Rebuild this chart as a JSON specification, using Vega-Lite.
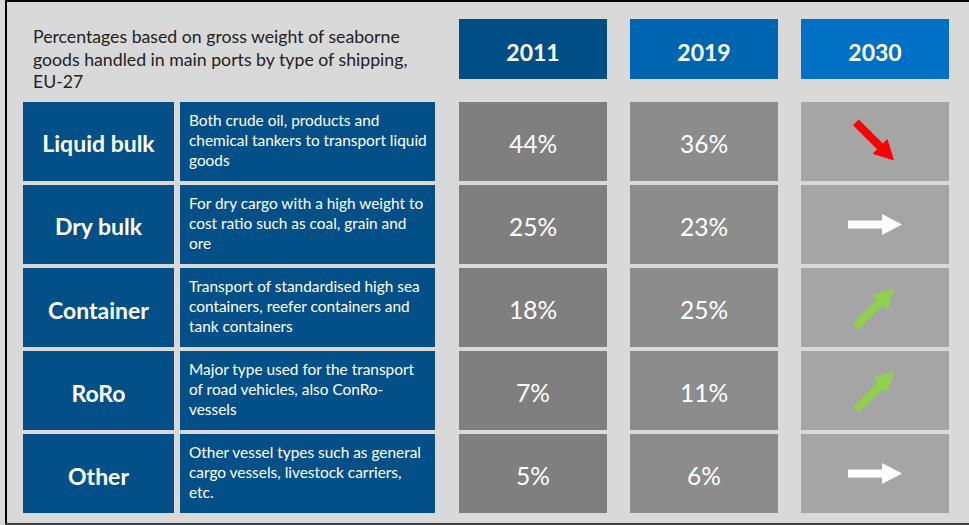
{
  "$schema": "https://vega.github.io/schema/vega-lite/v6.json",
  "background": "#D9D9D9",
  "padding": {"left": 5, "top": 0, "right": 0, "bottom": 0},
  "config": {"view": {"stroke": null}, "font": "Lato", "text": {"font": "Lato"}},
  "resolve": {"scale": {"fill": "independent", "color": "independent", "shape": "independent"}},
  "datasets": {
    "blank": [{}],
    "types": [
      {"type": "Liquid bulk", "desc": "Both crude oil, products and\nchemical tankers to transport liquid\ngoods"},
      {"type": "Dry bulk", "desc": "For dry cargo with a high weight to\ncost ratio such as coal, grain and\nore"},
      {"type": "Container", "desc": "Transport of standardised high sea\ncontainers, reefer containers and\ntank containers"},
      {"type": "RoRo", "desc": "Major type used for the transport\nof road vehicles, also ConRo-\nvessels"},
      {"type": "Other", "desc": "Other vessel types such as general\ncargo vessels, livestock carriers,\netc."}
    ],
    "years": [{"year": "2011"}, {"year": "2019"}, {"year": "2030"}],
    "shares": [
      {"type": "Liquid bulk", "year": "2011", "share": 0.44},
      {"type": "Liquid bulk", "year": "2019", "share": 0.36},
      {"type": "Liquid bulk", "year": "2030", "trend": "down"},
      {"type": "Dry bulk", "year": "2011", "share": 0.25},
      {"type": "Dry bulk", "year": "2019", "share": 0.23},
      {"type": "Dry bulk", "year": "2030", "trend": "flat"},
      {"type": "Container", "year": "2011", "share": 0.18},
      {"type": "Container", "year": "2019", "share": 0.25},
      {"type": "Container", "year": "2030", "trend": "up"},
      {"type": "RoRo", "year": "2011", "share": 0.07},
      {"type": "RoRo", "year": "2019", "share": 0.11},
      {"type": "RoRo", "year": "2030", "trend": "up"},
      {"type": "Other", "year": "2011", "share": 0.05},
      {"type": "Other", "year": "2019", "share": 0.06},
      {"type": "Other", "year": "2030", "trend": "flat"}
    ]
  },
  "spacing": 0,
  "vconcat": [
    {"width": 964, "height": 2, "data": {"name": "blank"}, "mark": {"type": "rect", "color": "black"}, "encoding": {}},
    {
      "spacing": 16,
      "resolve": {"scale": {"fill": "independent", "color": "independent", "shape": "independent"}},
      "hconcat": [
        {"width": 2, "height": 521, "data": {"name": "blank"}, "mark": {"type": "rect", "color": "black"}, "encoding": {}},
        {
          "spacing": 0,
          "resolve": {"scale": {"fill": "independent", "color": "independent", "shape": "independent"}},
          "vconcat": [
            {"width": 1, "height": 17, "data": {"name": "blank"}, "mark": {"type": "rect", "color": "#D9D9D9"}, "encoding": {}},
            {
              "spacing": 24,
              "resolve": {"scale": {"fill": "independent", "color": "independent", "shape": "independent"}},
              "hconcat": [
                {
                  "width": 412, "height": 83,
                  "data": {"name": "blank"},
                  "mark": {"type": "text", "align": "left", "baseline": "middle", "fontSize": 17.7, "lineHeight": 22.5, "color": "#222222", "lineBreak": "\n", "dx": -196, "dy": -22.5},
                  "encoding": {"text": {"value": "Percentages based on gross weight of seaborne\ngoods handled in main ports by type of shipping,\nEU-27"}}
                },
                {
                  "width": 490, "height": 60,
                  "data": {"name": "years"},
                  "encoding": {"x": {"field": "year", "type": "nominal", "scale": {"paddingInner": 0.1345, "paddingOuter": 0}, "axis": null}},
                  "layer": [
                    {"mark": {"type": "rect"},
                     "encoding": {"fill": {"field": "year", "type": "nominal", "scale": {"range": ["#014E86", "#0065B1", "#0071C4"]}, "legend": null}}},
                    {"mark": {"type": "text", "color": "white", "fontWeight": "bold", "fontSize": 23, "baseline": "middle", "dy": 5},
                     "encoding": {"text": {"field": "year", "type": "nominal"}}}
                  ]
                }
              ]
            },
            {
              "spacing": 24,
              "resolve": {"scale": {"fill": "independent", "color": "independent", "shape": "independent"}},
              "hconcat": [
                {
                  "spacing": 6,
                  "hconcat": [
                    {
                      "width": 151, "height": 411,
                      "data": {"name": "types"},
                      "encoding": {"y": {"field": "type", "type": "nominal", "scale": {"domain": ["Liquid bulk", "Dry bulk", "Container", "RoRo", "Other"], "paddingInner": 0.05, "paddingOuter": 0}, "axis": null}},
                      "layer": [
                        {"mark": {"type": "rect", "color": "#034F88"}},
                        {"mark": {"type": "text", "color": "white", "fontWeight": "bold", "fontSize": 23, "baseline": "middle", "dy": 4},
                         "encoding": {"text": {"field": "type", "type": "nominal"}}}
                      ]
                    },
                    {
                      "width": 255, "height": 411,
                      "data": {"name": "types"},
                      "encoding": {"y": {"field": "type", "type": "nominal", "scale": {"domain": ["Liquid bulk", "Dry bulk", "Container", "RoRo", "Other"], "paddingInner": 0.05, "paddingOuter": 0}, "axis": null}},
                      "layer": [
                        {"mark": {"type": "rect", "color": "#034F88"}},
                        {"mark": {"type": "text", "color": "white", "fontSize": 15.4, "lineHeight": 20, "align": "left", "baseline": "middle", "lineBreak": "\n", "dx": -118.5, "dy": -20.5},
                         "encoding": {"text": {"field": "desc", "type": "nominal"}}}
                      ]
                    }
                  ]
                },
                {
                  "width": 490, "height": 411,
                  "data": {"name": "shares"},
                  "encoding": {
                    "x": {"field": "year", "type": "nominal", "scale": {"paddingInner": 0.1345, "paddingOuter": 0}, "axis": null},
                    "y": {"field": "type", "type": "nominal", "scale": {"domain": ["Liquid bulk", "Dry bulk", "Container", "RoRo", "Other"], "paddingInner": 0.05, "paddingOuter": 0}, "axis": null}
                  },
                  "layer": [
                    {"mark": {"type": "rect"},
                     "encoding": {"fill": {"field": "year", "type": "nominal", "scale": {"range": ["#7F7F7F", "#8C8C8C", "#A5A5A5"]}, "legend": null}}},
                    {"transform": [{"filter": "isValid(datum.share)"}],
                     "mark": {"type": "text", "color": "white", "fontSize": 24.5, "baseline": "middle", "dy": 4.5},
                     "encoding": {"text": {"field": "share", "type": "quantitative", "format": ".0%"}}},
                    {"transform": [{"filter": "isValid(datum.trend)"}],
                     "mark": {"type": "point", "filled": true, "size": 2916, "opacity": 1, "strokeWidth": 0},
                     "encoding": {
                       "shape": {"field": "trend", "type": "nominal", "scale": {"domain": ["down", "flat", "up"], "range": [
                         "M -0.601 -0.813 L 0.290 0.078 L 0.460 -0.092 L 0.707 0.707 L -0.092 0.460 L 0.078 0.290 L -0.813 -0.601 Z",
                         "M -1 -0.15 L 0.26 -0.15 L 0.26 -0.39 L 1 0 L 0.26 0.39 L 0.26 0.15 L -1 0.15 Z",
                         "M -0.813 0.601 L 0.078 -0.290 L -0.092 -0.460 L 0.707 -0.707 L 0.460 0.092 L 0.290 -0.078 L -0.601 0.813 Z"
                       ]}, "legend": null},
                       "color": {"field": "trend", "type": "nominal", "scale": {"domain": ["down", "flat", "up"], "range": ["#FF0000", "#FFFFFF", "#92D050"]}, "legend": null}
                     }}
                  ]
                }
              ]
            }
          ]
        }
      ]
    },
    {"width": 964, "height": 2, "data": {"name": "blank"}, "mark": {"type": "rect", "color": "#3d3d3d"}, "encoding": {}}
  ]
}
